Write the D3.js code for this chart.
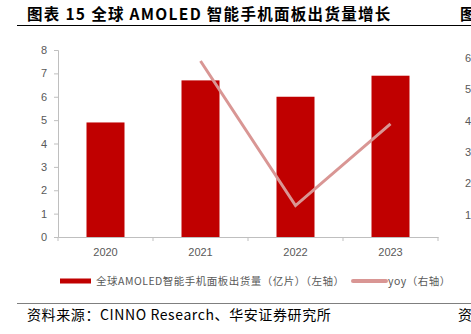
<!DOCTYPE html>
<html>
<head>
<meta charset="utf-8">
<script src="https://cdn.jsdelivr.net/npm/d3@7"></script>
<style>
  body { margin: 0; background: #fff; overflow: hidden; }
  svg { display: block; }
</style>
</head>
<body>
<svg width="471" height="334"></svg>
<script>
// data
const years = ["2020", "2021", "2022", "2023"];
const shipments = [4.9, 6.7, 6.0, 6.9];          // 亿片, left axis
const yoyYears = ["2021", "2022", "2023"];
const yoy = [0.59, 0.13, 0.39];                   // right axis
const leftTicks = [0, 1, 2, 3, 4, 5, 6, 7, 8];
const rightTicks = [0.1, 0.2, 0.3, 0.4, 0.5, 0.6];

const svg = d3.select("svg");
const cjk = "'Noto Sans CJK SC', 'Liberation Sans', sans-serif";
const latin = "'Liberation Sans', Arial, sans-serif";

// plot area
const plot = { left: 58, right: 438, top: 50, bottom: 237 };

// title
svg.append("text")
    .attr("x", 27).attr("y", 20)
    .style("font-family", cjk)
    .style("font-size", "15.5px")
    .style("font-weight", "bold")
    .style("letter-spacing", "1.3px")
    .style("fill", "#000")
    .text("图表 15  全球 AMOLED 智能手机面板出货量增长");
svg.append("text")
    .attr("x", 460).attr("y", 20)
    .style("font-family", cjk)
    .style("font-size", "15.5px")
    .style("font-weight", "bold")
    .text("图");
svg.append("line")
    .attr("x1", 17).attr("x2", 471).attr("y1", 25.5).attr("y2", 25.5)
    .style("stroke", "#000").style("stroke-width", 1);

// scales
const x = d3.scaleBand().domain(years).range([plot.left, plot.right]).paddingInner(0).paddingOuter(0);
const y = d3.scaleLinear().domain([0, 8]).range([plot.bottom, plot.top]);
const yR = d3.scaleLinear().domain([0.03, 0.625]).range([plot.bottom, plot.top]);

// bars
const barW = x.bandwidth() * 0.4;
svg.append("g").selectAll("rect")
    .data(shipments)
    .enter()
    .append("rect")
    .attr("x", (d, i) => x(years[i]) + (x.bandwidth() - barW) / 2)
    .attr("y", d => y(d))
    .attr("width", barW)
    .attr("height", d => y(0) - y(d))
    .style("fill", "#c00000");

// left axis
const yAxis = svg.append("g")
    .attr("transform", `translate(${plot.left},0)`)
    .call(d3.axisLeft(y).tickValues(leftTicks).tickSize(4).tickPadding(7));
yAxis.select(".domain").style("stroke", "#bfbfbf");
yAxis.selectAll(".tick line").style("stroke", "#bfbfbf");
yAxis.selectAll("text")
    .style("font-family", latin).style("font-size", "11px").style("fill", "#595959");

// x axis
const xAxis = svg.append("g")
    .attr("transform", `translate(0,${plot.bottom})`)
    .call(d3.axisBottom(x).tickSize(0).tickPadding(11));
xAxis.select(".domain").style("stroke", "#bfbfbf");
xAxis.selectAll("text")
    .style("font-family", latin).style("font-size", "11px").style("fill", "#595959");
// boundary ticks between categories
const bounds = years.map(d => x(d)).concat([plot.right]);
xAxis.selectAll(".bound")
    .data(bounds)
    .enter()
    .append("line")
    .attr("x1", d => d).attr("x2", d => d)
    .attr("y1", 0).attr("y2", 4)
    .style("stroke", "#bfbfbf");

// right axis labels (cut by the page edge)
svg.append("g").selectAll("text")
    .data(rightTicks)
    .enter()
    .append("text")
    .attr("x", 465)
    .attr("y", d => yR(d))
    .attr("dy", "0.35em")
    .style("font-family", latin).style("font-size", "11px").style("fill", "#595959")
    .text(d => d3.format(".0%")(d));

// yoy line
const line = d3.line()
    .x((d, i) => x(yoyYears[i]) + x.bandwidth() / 2)
    .y(d => yR(d));
svg.append("path")
    .datum(yoy)
    .attr("d", line)
    .style("fill", "none")
    .style("stroke", "#d99694")
    .style("stroke-width", 3);

// legend
const legY = 281;
svg.append("rect")
    .attr("x", 60).attr("y", legY - 2.5).attr("width", 31).attr("height", 5)
    .style("fill", "#c00000");
svg.append("text")
    .attr("x", 96).attr("y", legY).attr("dy", "0.35em")
    .style("font-family", cjk).style("font-size", "10.5px").style("fill", "#595959")
    .style("letter-spacing", "0.5px")
    .text("全球AMOLED智能手机面板出货量（亿片）（左轴）");
svg.append("line")
    .attr("x1", 353).attr("x2", 386).attr("y1", legY).attr("y2", legY)
    .style("stroke", "#d99694").style("stroke-width", 4).style("stroke-linecap", "round");
svg.append("text")
    .attr("x", 388).attr("y", legY).attr("dy", "0.35em")
    .style("font-family", cjk).style("font-size", "10.5px").style("fill", "#595959")
    .style("letter-spacing", "0.5px")
    .text("yoy（右轴）");

// source
svg.append("line")
    .attr("x1", 17).attr("x2", 471).attr("y1", 303.5).attr("y2", 303.5)
    .style("stroke", "#7f7f7f").style("stroke-width", 1);
svg.append("text")
    .attr("x", 27).attr("y", 320)
    .style("font-family", cjk).style("font-size", "14px").style("fill", "#000")
    .style("letter-spacing", "0.6px")
    .text("资料来源：CINNO Research、华安证券研究所");
svg.append("text")
    .attr("x", 458).attr("y", 320)
    .style("font-family", cjk).style("font-size", "14px").style("fill", "#000")
    .text("资");
</script>
</body>
</html>
